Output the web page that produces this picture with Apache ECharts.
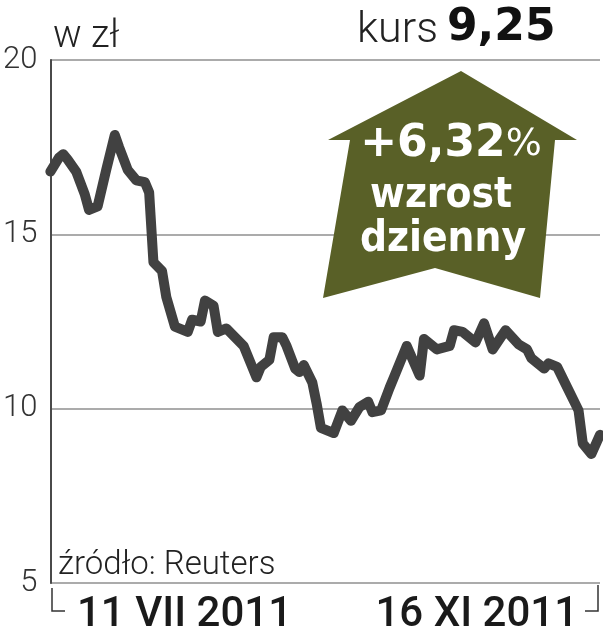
<!DOCTYPE html>
<html>
<head>
<meta charset="utf-8">
<script src="https://cdn.jsdelivr.net/npm/echarts@6/dist/echarts.min.js"></script>
<style>
  html, body { margin: 0; padding: 0; background: #fff; }
  #chart { width: 603px; height: 640px; }
</style>
</head>
<body>
<div id="chart"></div>
<script>
// kurs akcji, notowania dzienne
const dates = [
  '2011-07-11', '2011-07-13', '2011-07-14', '2011-07-15', '2011-07-17', '2011-07-19',
  '2011-07-20', '2011-07-22', '2011-07-24', '2011-07-26', '2011-07-27', '2011-07-29',
  '2011-07-31', '2011-08-02', '2011-08-03', '2011-08-04', '2011-08-06', '2011-08-07',
  '2011-08-09', '2011-08-12', '2011-08-13', '2011-08-15', '2011-08-16', '2011-08-18',
  '2011-08-19', '2011-08-21', '2011-08-23', '2011-08-25', '2011-08-28', '2011-08-29',
  '2011-08-31', '2011-09-01', '2011-09-03', '2011-09-04', '2011-09-06', '2011-09-07',
  '2011-09-08', '2011-09-10', '2011-09-11', '2011-09-12', '2011-09-15', '2011-09-17',
  '2011-09-19', '2011-09-21', '2011-09-23', '2011-09-24', '2011-09-26', '2011-09-28',
  '2011-09-29', '2011-10-02', '2011-10-05', '2011-10-06', '2011-10-09', '2011-10-12',
  '2011-10-13', '2011-10-15', '2011-10-18', '2011-10-20', '2011-10-22', '2011-10-25',
  '2011-10-28', '2011-10-30', '2011-10-31', '2011-11-03', '2011-11-04', '2011-11-06',
  '2011-11-08', '2011-11-11', '2011-11-12', '2011-11-14', '2011-11-16'
]
const prices = [
  16.8, 17.2, 17.3, 17.15, 16.8, 16.15,
  15.7, 15.8, 16.85, 17.85, 17.5, 16.85,
  16.55, 16.5, 16.2, 14.2, 13.95, 13.2,
  12.35, 12.2, 12.55, 12.5, 13.1, 12.95,
  12.2, 12.3, 12.05, 11.8, 10.9, 11.2,
  11.4, 12.05, 12.05, 11.8, 11.15, 11.05,
  11.25, 10.75, 10.15, 9.45, 9.3, 9.95,
  9.65, 10.05, 10.2, 9.9, 9.95, 10.6,
  10.9, 11.8, 10.95, 12.0, 11.7, 11.8,
  12.25, 12.2, 11.9, 12.45, 11.7, 12.25,
  11.85, 11.7, 11.45, 11.15, 11.3, 11.2,
  10.7, 9.95, 9.0, 8.7, 9.25
]
const yTicks = [5, 10, 15, 20]
const dateLabels = ['11 VII 2011', '16 XI 2011']
const unitLabel = 'w zł'
const lastPrice = '9,25'
const dailyChange = '+6,32'
const changeWords = ['wzrost', 'dzienny']
const sourceLabel = 'źródło: Reuters'

const lightFont = 'Roboto'
const narrowBold = '"DejaVu Sans Condensed", "DejaVu Sans", sans-serif'
const olive = '#596027'

const chart = echarts.init(document.getElementById('chart'))

const option = {
  animation: false,
  grid: { left: 48, right: 3, top: 60, bottom: 57 },
  xAxis: {
    type: 'time',
    min: dates[0],
    max: dates[dates.length - 1],
    axisLine: { show: false },
    axisTick: { show: false },
    axisLabel: { show: false },
    splitLine: { show: false }
  },
  yAxis: {
    type: 'value',
    min: yTicks[0],
    max: yTicks[yTicks.length - 1],
    interval: 5,
    axisLine: { show: true, lineStyle: { color: '#4a4a4a', width: 2 } },
    axisTick: { show: false },
    axisLabel: {
      margin: 13,
      fontFamily: lightFont,
      fontWeight: 300,
      fontSize: 31,
      color: '#333'
    },
    splitLine: { lineStyle: { color: '#8f8f8f', width: 1.5 } }
  },
  series: [
    {
      type: 'line',
      data: dates.map((d, i) => [d, prices[i]]),
      showSymbol: false,
      clip: false,
      lineStyle: { color: '#414141', width: 10, cap: 'round', join: 'round' },
      z: 3
    }
  ],
  graphic: [
    // jednostka i kurs
    {
      type: 'text', left: 53, top: 18, z: 100,
      style: { text: unitLabel, font: '300 38px Roboto', fill: '#222' }
    },
    {
      type: 'text', left: 357, top: 10, z: 100,
      style: { text: 'kurs', font: '300 43px Roboto', fill: '#222' }
    },
    {
      type: 'text', left: 447, top: 7, z: 100,
      style: { text: lastPrice, font: 'bold 44px "DejaVu Sans"', fill: '#111' }
    },
    // strzałka
    {
      type: 'polygon', z: 100,
      shape: {
        points: [[461, 71], [577, 140], [555, 140], [540, 298], [435, 268],
                 [323, 298], [350, 140], [328, 140]]
      },
      style: { fill: olive }
    },
    {
      type: 'text', z: 101, x: 451, y: 145,
      style: {
        text: '{b|' + dailyChange + '}{p|%}',
        align: 'center', verticalAlign: 'middle',
        rich: {
          b: { font: 'bold 44px "DejaVu Sans"', fill: '#fff' },
          p: { font: '38px "DejaVu Sans"', fill: '#fff' }
        }
      }
    },
    {
      type: 'text', z: 101, x: 441, y: 196,
      style: { text: changeWords[0], font: 'bold 42px ' + narrowBold, fill: '#fff', align: 'center', verticalAlign: 'middle' }
    },
    {
      type: 'text', z: 101, x: 443, y: 240,
      style: { text: changeWords[1], font: 'bold 42px ' + narrowBold, fill: '#fff', align: 'center', verticalAlign: 'middle' }
    },
    // źródło
    {
      type: 'text', left: 58, top: 549, z: 100,
      style: { text: sourceLabel, font: '300 33px Roboto', fill: '#222' }
    },
    // klamry osi czasu
    {
      type: 'polyline', z: 100,
      shape: { points: [[52, 588], [52, 611], [65, 611]] },
      style: { stroke: '#333', lineWidth: 1.5, fill: null }
    },
    {
      type: 'polyline', z: 100,
      shape: { points: [[598, 585], [598, 611], [585, 611]] },
      style: { stroke: '#333', lineWidth: 1.5, fill: null }
    },
    {
      type: 'text', left: 77, top: 594, z: 100,
      style: { text: dateLabels[0], font: '500 42px Roboto', fill: '#1a1a1a' }
    },
    {
      type: 'text', right: 25, top: 594, z: 100,
      style: { text: dateLabels[1], font: '500 42px Roboto', fill: '#1a1a1a' }
    }
  ]
}

chart.setOption(option)
</script>
</body>
</html>
